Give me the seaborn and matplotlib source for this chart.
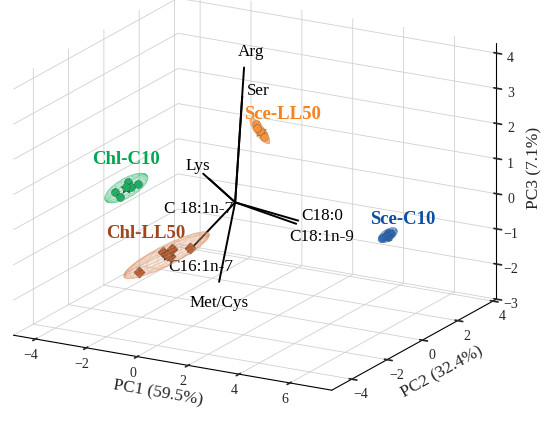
import numpy as np
import matplotlib
matplotlib.use('Agg')
import matplotlib.pyplot as plt
import seaborn as sns

# group scores (PC1, PC2, PC3)
groups = ['Chl-C10', 'Chl-LL50', 'Sce-LL50', 'Sce-C10']
chl_c10_pc1 = [-3.09, -2.80, -3.20, -2.94, -3.03, -3.00]
chl_c10_pc2 = [-1.95, -2.09, -1.03, -0.86, -1.39, -1.15]
chl_c10_pc3 = [0.42, 0.36, 0.44, 0.36, 0.40, 0.34]

chl_ll50_pc1 = [-1.77, -1.59, -1.76, -1.31, -1.48, -1.54]
chl_ll50_pc2 = [-2.49, -1.39, -0.75, -1.57, -0.02, -0.96]
chl_ll50_pc3 = [-1.55, -1.25, -1.58, -1.26, -1.50, -1.30]

sce_ll50_pc1 = [1.30, 1.40, 1.50, 1.60, 1.70, 1.50]
sce_ll50_pc2 = [-0.30, -0.38, -0.34, -0.30, -0.38, -0.34]
sce_ll50_pc3 = [2.43, 2.36, 2.28, 2.20, 2.13, 2.28]

sce_c10_pc1 = [5.45, 5.50, 5.55, 5.50, 5.48, 5.52]
sce_c10_pc2 = [0.90, 1.05, 1.20, 1.35, 1.20, 1.15]
sce_c10_pc3 = [-0.62, -0.60, -0.58, -0.60, -0.55, -0.65]

# loadings (biplot arrows, drawn from the grand mean)
variables = ['Arg', 'Ser', 'Lys', 'C 18:1n-7', 'C16:1n-7', 'C18:0', 'C18:1n-9', 'Met/Cys']
load_pc1 = [0.35, 0.28, -0.91, -0.75, -1.85, 2.48, 2.40, -0.63]
load_pc2 = [0.00, 0.00, -0.50, -0.40, 0.00, 0.00, 0.00, 0.00]
load_pc3 = [3.88, 3.05, 0.84, 0.69, -1.64, -0.21, -0.31, -2.34]

colors = {'Chl-C10': '#00a651', 'Chl-LL50': '#a0461e',
          'Sce-LL50': '#f7821e', 'Sce-C10': '#0b4ea2'}
shell = {'Chl-C10': '#4cc283', 'Chl-LL50': '#e0966a',
         'Sce-LL50': '#f9a860', 'Sce-C10': '#4a7fc4'}
markers = {'Chl-C10': 'o', 'Chl-LL50': 'D', 'Sce-LL50': 'o', 'Sce-C10': 'o'}

data = {
    'Chl-C10': (chl_c10_pc1, chl_c10_pc2, chl_c10_pc3),
    'Chl-LL50': (chl_ll50_pc1, chl_ll50_pc2, chl_ll50_pc3),
    'Sce-LL50': (sce_ll50_pc1, sce_ll50_pc2, sce_ll50_pc3),
    'Sce-C10': (sce_c10_pc1, sce_c10_pc2, sce_c10_pc3),
}
# label offsets (dx, dz) relative to the group centroid
label_off = {'Chl-C10': (0.0, 0.8), 'Chl-LL50': (-0.83, 0.52),
             'Sce-LL50': (0.87, 0.56), 'Sce-C10': (0.59, 0.53)}

sns.set_theme(style='white')
plt.rcParams['font.family'] = ['Liberation Serif', 'DejaVu Serif']

fig = plt.figure(figsize=(5.5, 4.22), dpi=100)
ax = fig.add_axes([-0.2, -0.116, 1.30, 1.30], projection='3d')
ax.set_proj_type('ortho')
ax.view_init(elev=18, azim=-60.8)
ax.set_box_aspect((4, 3.70, 2.95), zoom=1.0)

all_pts = []
for g in groups:
    x, y, z = (np.array(v) for v in data[g])
    c = colors[g]
    # confidence ellipsoid from the group covariance
    pts = np.vstack([x, y, z]).T
    all_pts.append(pts)
    mu = pts.mean(axis=0)
    cov = np.cov(pts.T) + np.eye(3) * 0.003
    vals, vecs = np.linalg.eigh(cov)
    radii = 2.6 * np.sqrt(vals)
    u = np.linspace(0, 2 * np.pi, 40)
    v = np.linspace(0, np.pi, 24)
    sph = np.stack([np.outer(np.cos(u), np.sin(v)),
                    np.outer(np.sin(u), np.sin(v)),
                    np.outer(np.ones_like(u), np.cos(v))])
    ell = np.einsum('ij,jkl->ikl', vecs * radii, sph) + mu[:, None, None]
    ax.plot_surface(ell[0], ell[1], ell[2], color=shell[g], alpha=0.10,
                    linewidth=0, shade=False)
    ax.plot_wireframe(ell[0], ell[1], ell[2], color=shell[g], alpha=0.45,
                      linewidth=0.35, rstride=2, cstride=2)
    ax.scatter(x, y, z, color=c, marker=markers[g], s=32, edgecolor='#333333',
               linewidth=0.4, depthshade=False)
    ax.scatter([mu[0]], [mu[1]], [mu[2]], color=c, marker='*', s=70,
               edgecolor='#222222', linewidth=0.6, depthshade=False)
    dx, dz = label_off[g]
    ax.text(mu[0] + dx, mu[1], mu[2] + dz, g, color=c, fontsize=13.5,
            fontweight='bold', ha='center', va='center')

o = np.vstack(all_pts).mean(axis=0)

# label anchor = fraction along the arrow + (dx, dz) offsets
lab_off = {'Arg': (1.0, 0.28, 0.49, 'center'),
           'Ser': (1.0, 0.2, 0.17, 'left'),
           'Lys': (1.0, 0.28, 0.26, 'right'),
           'C 18:1n-7': (0.0, -0.08, -0.2, 'right'),
           'C16:1n-7': (1.0, -0.79, -0.53, 'left'),
           'C18:0': (1.0, 0.12, 0.16, 'left'),
           'C18:1n-9': (1.0, -0.28, -0.40, 'left'),
           'Met/Cys': (1.0, 0.0, -0.6, 'center')}
for name, lx, ly, lz in zip(variables, load_pc1, load_pc2, load_pc3):
    ax.plot([o[0], o[0] + lx], [o[1], o[1] + ly], [o[2], o[2] + lz],
            color='black', linewidth=1.4)
    t, ox, oz, ha = lab_off[name]
    ax.text(o[0] + t * lx + ox, o[1] + t * ly, o[2] + t * lz + oz, name,
            color='black', fontsize=12.3, ha=ha, va='center')

ax.set_xlim(-4.87, 7.65)
ax.set_ylim(-5.13, 4.2)
ax.set_zlim(-3, 4.28)
ax.set_xticks([-4, -2, 0, 2, 4, 6])
ax.set_yticks([-4, -2, 0, 2, 4])
ax.set_zticks([-3, -2, -1, 0, 1, 2, 3, 4])
ax.tick_params(labelsize=10, pad=-2)
ax.set_xlabel('PC1 (59.5%)', fontsize=12.5, labelpad=-3)
ax.set_ylabel('PC2 (32.4%)', fontsize=12.5, labelpad=-3)
ax.set_zlabel('PC3 (7.1%)', fontsize=12.5, labelpad=-5)

for axis in (ax.xaxis, ax.yaxis, ax.zaxis):
    axis.set_pane_color((1, 1, 1, 0))
    axis.pane.set_edgecolor('#cccccc')
    axis._axinfo['grid']['color'] = '#d0d0d0'
    axis._axinfo['grid']['linewidth'] = 0.6
    axis.line.set_color('black')
    axis.line.set_linewidth(0.8)

fig.savefig('out.png', dpi=100)
